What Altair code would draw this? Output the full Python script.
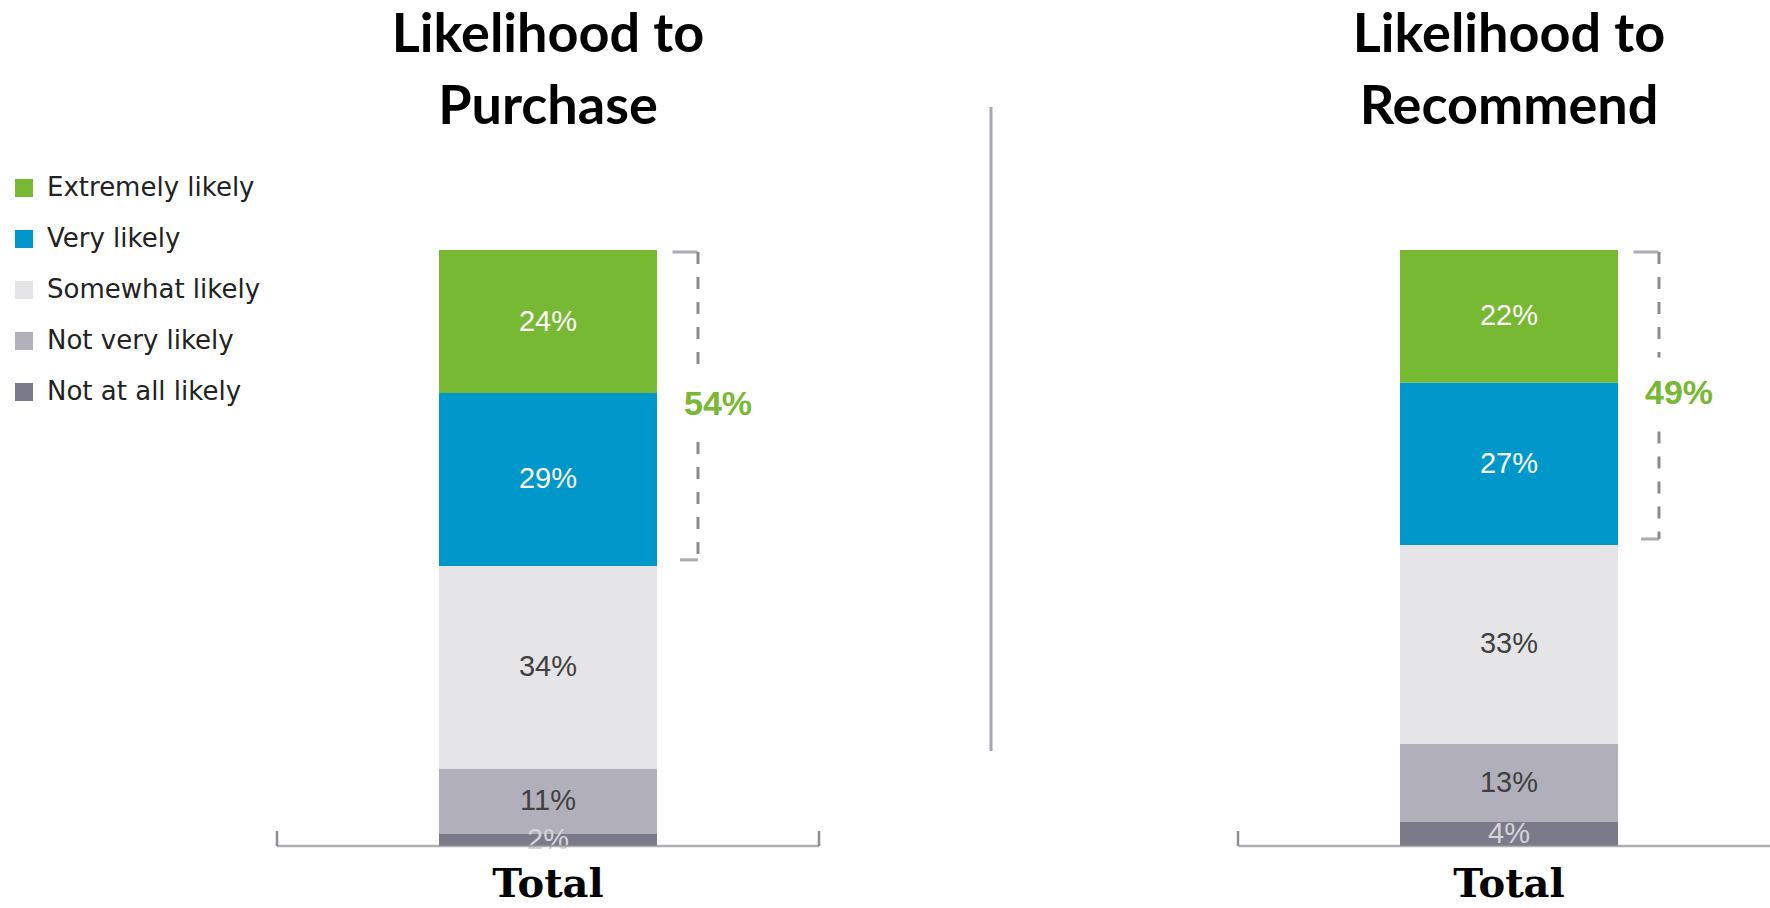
import altair as alt
import pandas as pd

# ---- data ----
panels = ["Purchase", "Recommend"]
titles = ["Likelihood to\nPurchase", "Likelihood to\nRecommend"]
x_labels = ["Total", "Total"]
categories = ["Extremely likely", "Very likely", "Somewhat likely",
              "Not very likely", "Not at all likely"]
purchase = [24, 29, 34, 11, 2]
recommend = [22, 27, 33, 13, 4]
top2_labels = ["54%", "49%"]

colors = ["#77b933", "#0097cb", "#e5e5e8", "#b1b0ba", "#7b7a88"]
label_colors = ["#ffffff", "#ffffff", "#404040", "#404040", "#d4d4da"]

# ---- tables built from the arrays ----
rows = []
brows = []
for p, vals, t, xl, tl in zip(panels, [purchase, recommend], titles, x_labels, top2_labels):
    total = sum(vals)
    cum = 0
    seg_bounds = {}
    for cat, v, lc in reversed(list(zip(categories, vals, label_colors))):
        y0 = cum / total
        cum += v
        y1 = cum / total
        seg_bounds[cat] = (y0, y1)
        rows.append(dict(panel=p, category=cat, value=v, y0=y0, y1=y1,
                         mid=(y0 + y1) / 2, label=f"{v}%", lcolor=lc))
    top = seg_bounds[categories[0]][1]
    bottom = seg_bounds[categories[1]][0]
    brows.append(dict(panel=p, top=top, bottom=bottom, mid=(top + bottom) / 2,
                      label=tl, zero=0.0, title=t, xl=xl))
seg = pd.DataFrame(rows)
br = pd.DataFrame(brows)

xscale = alt.Scale(domain=panels, range=[67.5, 1989.5],
                   paddingInner=0.7732, paddingOuter=0.3866)
yscale = alt.Scale(domain=[0, 1], range=[846, 250])


def X():
    return alt.X("panel:N", scale=xscale, axis=None)


def Y(f):
    return alt.Y(f"{f}:Q", scale=yscale, axis=None)


bracket_color = "#8a8994"

bars = alt.Chart(seg).mark_bar(width=218).encode(
    x=X(), y=Y("y0"), y2="y1:Q",
    color=alt.Color("category:N",
                    scale=alt.Scale(domain=categories, range=colors),
                    legend=alt.Legend(title=None, orient="none", legendX=11, legendY=175,
                                      symbolType="square", symbolSize=324,
                                      symbolStrokeWidth=0, labelFont="DejaVu Sans",
                                      labelFontSize=26, labelColor="#222222",
                                      labelOffset=10, rowPadding=25, padding=0,
                                      labelLimit=400)),
)

seg_text = alt.Chart(seg).mark_text(font="Liberation Sans", fontSize=29,
                                    baseline="middle").encode(
    x=X(), y=Y("mid"), text="label:N",
    fill=alt.Fill("lcolor:N", scale=None),
)

vline_top = alt.Chart(br).mark_rule(strokeDash=[12, 13], strokeWidth=3, color=bracket_color,
                                    xOffset=150, yOffset=2, y2Offset=-40).encode(
    x=X(), y=Y("top"), y2="mid:Q")
vline_bot = alt.Chart(br).mark_rule(strokeDash=[12, 13], strokeWidth=3, color=bracket_color,
                                    xOffset=150, yOffset=34, y2Offset=-6).encode(
    x=X(), y=Y("mid"), y2="bottom:Q")
tick_top = alt.Chart(br).mark_tick(size=25, thickness=3, color=bracket_color,
                                   xOffset=137, yOffset=2).encode(x=X(), y=Y("top"))
tick_bot = alt.Chart(br).mark_tick(size=18, thickness=3, color=bracket_color,
                                   xOffset=141, yOffset=-6).encode(x=X(), y=Y("bottom"))
top2_text = alt.Chart(br).mark_text(font="Liberation Sans", fontWeight="bold", fontSize=34,
                                    color="#77b933", xOffset=170, yOffset=-3,
                                    baseline="middle").encode(
    x=X(), y=Y("mid"), text="label:N")

base_line = alt.Chart(br).mark_tick(size=542, thickness=2.5, color="#8e8e94").encode(
    x=X(), y=Y("zero"))
end_left = alt.Chart(br).mark_rule(strokeWidth=2.5, color="#8e8e94", xOffset=-271,
                                   y2Offset=-15).encode(x=X(), y=Y("zero"), y2="zero:Q")
end_right = alt.Chart(br).mark_rule(strokeWidth=2.5, color="#8e8e94", xOffset=271,
                                    y2Offset=-15).encode(x=X(), y=Y("zero"), y2="zero:Q")

title_text = alt.Chart(br).mark_text(font="Lato", fontWeight="bold", fontSize=54,
                                     lineBreak="\n", lineHeight=72, baseline="alphabetic",
                                     color="#000000").encode(
    x=X(), y=alt.value(52), text="title:N")
total_text = alt.Chart(br).mark_text(font="DejaVu Serif", fontWeight="bold", fontSize=40,
                                     baseline="middle", color="#000000").encode(
    x=X(), y=alt.value(885), text="xl:N")

divider = alt.Chart(pd.DataFrame({"d": [0]})).mark_rule(color="#a7a6ae", strokeWidth=3).encode(
    x=alt.value(991), y=alt.value(107), y2=alt.value(751))

chart = alt.layer(
    bars, seg_text, vline_top, vline_bot, tick_top, tick_bot, top2_text,
    base_line, end_left, end_right, title_text, total_text, divider,
).properties(
    width=1770, height=908,
    autosize=alt.AutoSizeParams(type="none"), padding=0,
).configure_view(stroke=None)

chart.save("out.html", embed_options={"renderer": "svg", "actions": False})
